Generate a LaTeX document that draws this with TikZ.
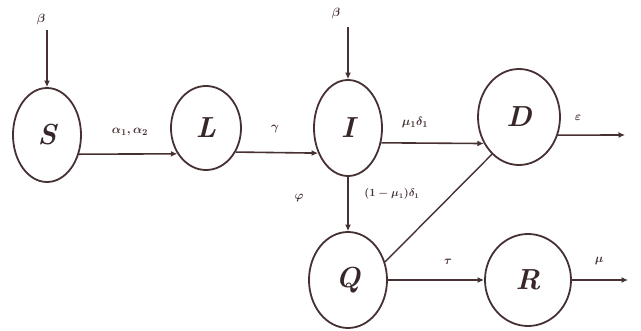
\documentclass[tikz,border=0pt]{standalone}
\usetikzlibrary{shapes.geometric,arrows.meta}
\definecolor{ink}{RGB}{70,48,50}
\begin{document}
\begin{tikzpicture}[x=1pt,y=-1pt,
  compart/.style={draw=ink,ellipse,line width=1.8pt,inner sep=0pt,
    font=\fontsize{29}{32}\selectfont\bfseries\itshape,text=ink!80!black},
  flow/.style={draw=ink,line width=1.6pt,-{Latex[length=6.5pt,width=6pt]}},
  lbl/.style={font=\fontsize{13}{15}\selectfont\boldmath,text=ink,inner sep=1pt}]
\useasboundingbox (0,0) rectangle (641,331);
\node[compart,minimum width=68pt,minimum height=94pt] (S) at (47,135) {S};
\node[compart,minimum width=70pt,minimum height=84pt] (L) at (206,128) {L};
\node[compart,minimum width=68pt,minimum height=96pt] (I) at (348,128) {I};
\node[compart,minimum width=82pt,minimum height=96pt] (D) at (519,117) {D};
\node[compart,minimum width=78pt,minimum height=96pt] (Q) at (348,280) {Q};
\node[compart,minimum width=86pt,minimum height=92pt] (R) at (528,280) {R};
\coordinate (bS) at (47,30);
\coordinate (bI) at (348,27);
\coordinate (Dout) at (625,135);
\coordinate (Rout) at (628,280);
\draw[flow] (bS) -- (S.north);
\draw[flow] (bI) -- (I.north);
\draw[flow] (S.-31.4) -- (L.-138.3);
\draw[flow] (L.-39.9) -- (I.-140.8);
\draw[flow] (I.-24.9) -- (D.-143);
\draw[flow] (I.south) -- (Q.north);
\draw[flow] (D.-25.3) -- (Dout);
\draw[flow] (Q.east) -- (R.west);
\draw[flow] (R.east) -- (Rout);
\draw[draw=ink,line width=1.4pt] (Q.26) -- (D.-126);
\node[lbl] (l1) at (41,20) {$\beta$};
\node[lbl] (l2) at (336,14) {$\beta$};
\node[lbl] (l3) at (130,132) {$\alpha_1,\alpha_2$};
\node[lbl] (l4) at (275,129) {$\gamma$};
\node[lbl] (l5) at (415,123) {$\mu_1\delta_1$};
\node[lbl] (l6) at (299,198) {$\varphi$};
\node[lbl,font=\fontsize{10.5}{12}\selectfont\boldmath] (l7) at (392,194) {$(1-\mu_1)\delta_1$};
\node[lbl] (l8) at (578,118) {$\varepsilon$};
\node[lbl] (l9) at (448,262) {$\tau$};
\node[lbl] (l10) at (599,261) {$\mu$};
\end{tikzpicture}
\end{document}
